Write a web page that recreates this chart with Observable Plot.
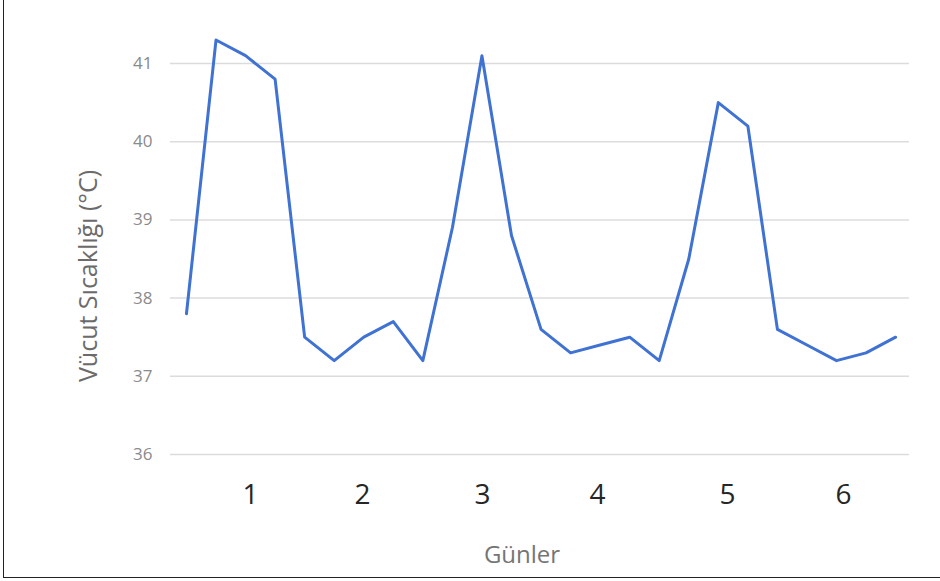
<!DOCTYPE html>
<html>
<head>
<meta charset="utf-8">
<script src="https://cdn.jsdelivr.net/npm/d3@7"></script>
<script src="https://cdn.jsdelivr.net/npm/@observablehq/plot@0.6"></script>
<style>
  html, body { margin: 0; padding: 0; background: #fff; }
  #wrap { position: relative; width: 940px; height: 581px; overflow: hidden; font-family: "Open Sans", sans-serif; }
  #frame { position: absolute; left: 3px; top: -2px; width: 945px; height: 580px; border-left: 1.5px solid #222; border-bottom: 1.5px solid #222; box-sizing: border-box; pointer-events: none; }
</style>
</head>
<body>
<div id="wrap"><div id="frame"></div></div>
<script>
// Readings (index order), body temperature in °C
const readingIndex = [0,1,2,3,4,5,6,7,8,9,10,11,12,13,14,15,16,17,18,19,20,21,22,23,24];
const temperature = [37.8, 41.3, 41.1, 40.8, 37.5, 37.2, 37.5, 37.7, 37.2, 38.9, 41.1, 38.8, 37.6, 37.3, 37.4, 37.5, 37.2, 38.5, 40.5, 40.2, 37.6, 37.4, 37.2, 37.3, 37.5];
// Day tick labels and their positions along the reading index (as placed in the picture)
const dayLabels = ["1", "2", "3", "4", "5", "6"];
const dayTickPos = [2.17, 5.96, 10.02, 13.91, 18.31, 22.24];
const yTicks = [36, 37, 38, 39, 40, 41];
const yTitle = "Vücut Sıcaklığı (°C)";
const xTitle = "Günler";

const data = readingIndex.map((i, k) => ({i, t: temperature[k]}));

const chart = Plot.plot({
  width: 940,
  height: 581,
  marginLeft: 170,
  marginRight: 31,
  marginTop: 63,
  marginBottom: 127,
  style: {fontFamily: "'Open Sans', sans-serif", background: "transparent"},
  x: {domain: [-0.54, 24.47]},
  y: {domain: [36, 41]},
  marks: [
    Plot.gridY(yTicks, {stroke: "#dcdcdc", strokeOpacity: 1, strokeWidth: 1.5}),
    Plot.axisY(yTicks, {tickSize: 0, tickPadding: 18, fontSize: 17, fill: "#8a8a8a", label: null, tickFormat: d3.format("d")}),
    Plot.axisX(dayTickPos, {tickSize: 0, tickPadding: 30, fontSize: 28, fill: "#262626", label: null,
      tickFormat: (d) => dayLabels[dayTickPos.indexOf(d)]}),
    Plot.lineY(data, {x: "i", y: "t", stroke: "#3f72d2", strokeWidth: 3, strokeLinejoin: "round"}),
    Plot.text([yTitle], {frameAnchor: "left", textAnchor: "middle", rotate: -90, dx: -82, dy: 17, fontSize: 25, fill: "#6b6b6b"}),
    Plot.text([xTitle], {frameAnchor: "bottom", textAnchor: "middle", dx: -18, dy: 108, fontSize: 24, fill: "#757575"})
  ]
});
document.getElementById("wrap").prepend(chart);
</script>
</body>
</html>
